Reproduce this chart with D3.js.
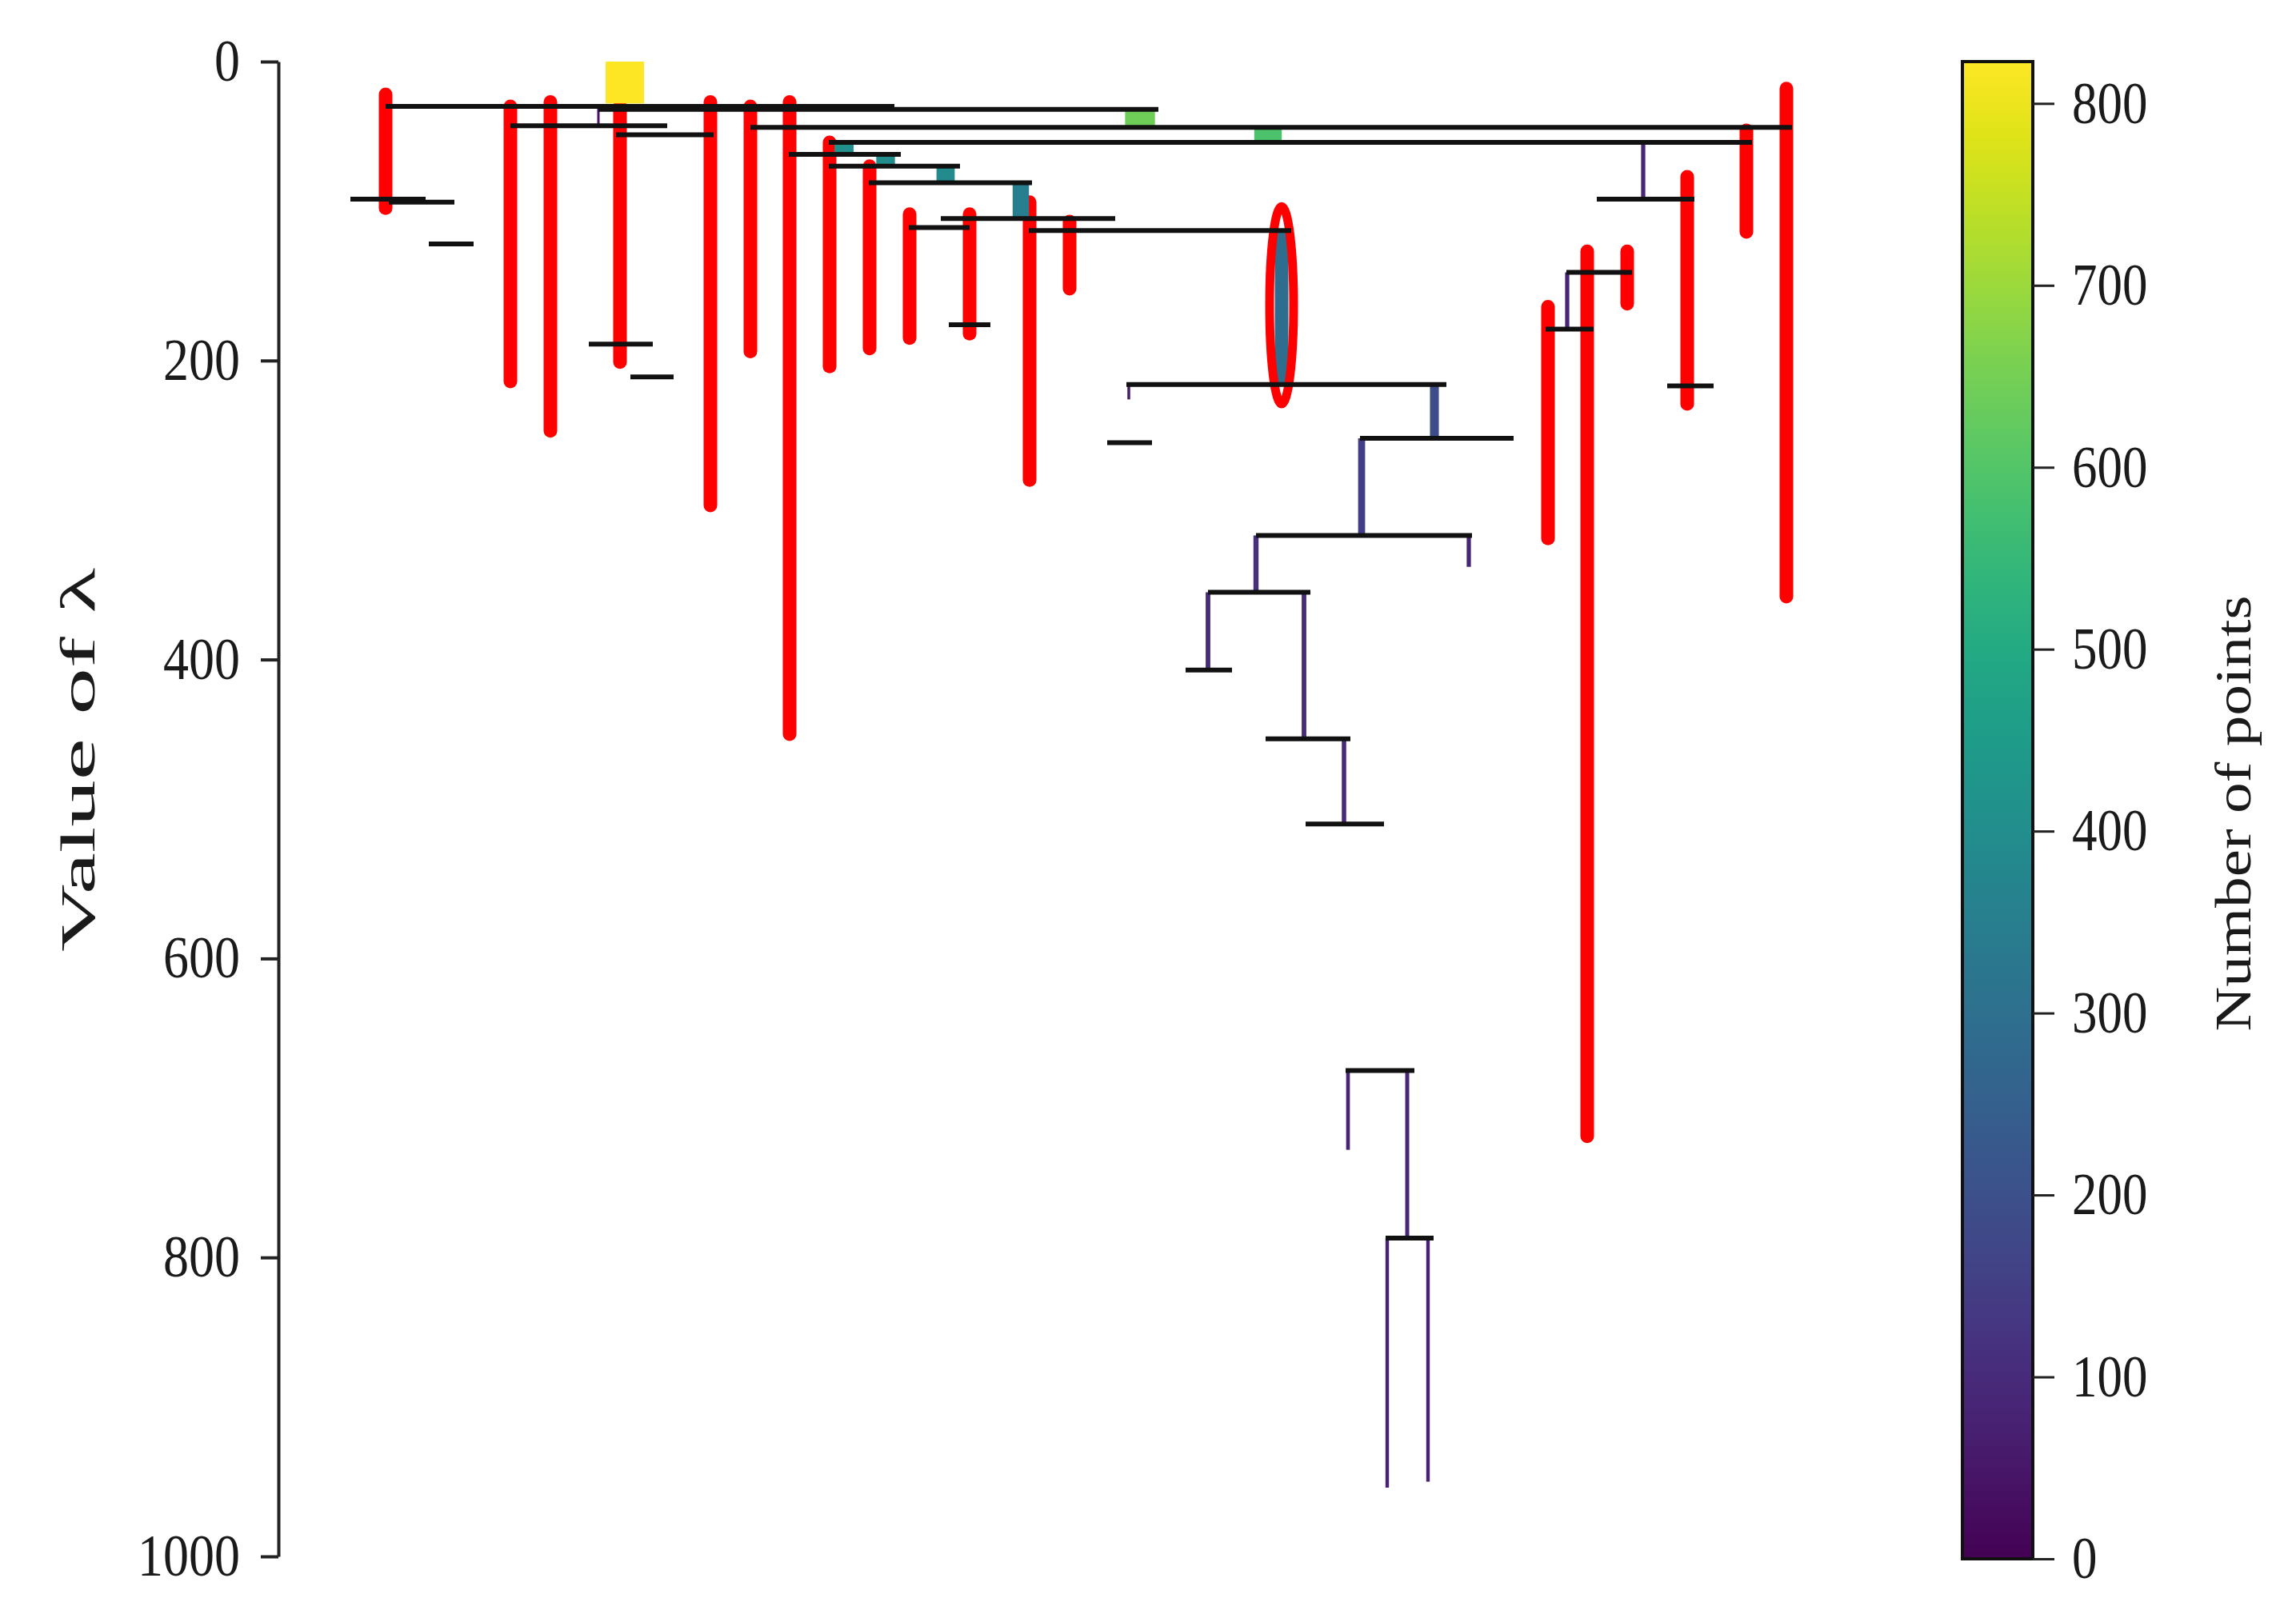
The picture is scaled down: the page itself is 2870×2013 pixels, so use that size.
<!DOCTYPE html>
<html>
<head>
<meta charset="UTF-8">
<script src="https://d3js.org/d3.v7.min.js"></script>
<style>
  body { margin: 0; background: #fff; }
  svg text { font-family: "Liberation Serif", "Times New Roman", serif; fill: #1a1a1a; }
</style>
</head>
<body>
<svg id="chart" width="2870" height="2013"></svg>
<script>
// condensed tree
// x = leaf position (0..1000), lambda values, n = number of points
const lambdaTicks = [0, 200, 400, 600, 800, 1000];
const countTicks = [0, 100, 200, 300, 400, 500, 600, 700, 800];
const countMax = 823;

// horizontal split lines: [lambda, x1, x2]
const splitLines = [
  [30, 67, 385], [32, 200, 550], [43, 145, 243], [49, 211, 272],
  [44, 295, 946], [54, 344, 921], [62, 319, 389], [70, 344, 426],
  [81, 369, 471], [105, 414, 523], [111, 394, 432], [113, 469, 633],
  [92, 45, 92], [94, 69, 110], [122, 94, 122], [189, 194, 234],
  [211, 220, 247], [176, 419, 445], [216, 530, 730], [255, 518, 546],
  [252, 676, 772], [317, 611, 746], [355, 581, 645], [407, 567, 596],
  [453, 617, 670], [510, 642, 691], [675, 667, 710], [787, 692, 722],
  [92, 824, 885], [217, 868, 897], [141, 805, 846], [179, 792, 822]
];

// branches: [x, lambda start, lambda end, n points]
const branches = [
  [216.5, 0, 28, 823], [200, 30, 43, 40], [538.5, 32, 43, 640],
  [618.5, 44, 54, 590], [353.5, 54, 62, 410], [379.5, 62, 70, 400],
  [417, 70, 81, 390], [464, 81, 105, 350], [627, 113, 216, 290],
  [722.5, 216, 252, 190], [677, 252, 317, 150], [611, 317, 355, 110],
  [744, 317, 338, 90], [581, 355, 407, 100], [641, 355, 453, 100],
  [666, 453, 510, 95], [668.5, 675, 728, 80], [705.5, 675, 787, 85],
  [693, 787, 954, 75], [718.5, 787, 950, 75], [853, 54, 92, 90],
  [805.5, 141, 179, 90], [531.5, 216, 226, 60]
];

// selected clusters: [x, lambda start, lambda end]
const selected = [
  [67, 22, 98], [145, 30, 214], [170, 27, 247], [213.5, 30, 201],
  [270, 27, 297], [295, 30, 194], [319.5, 27, 450], [344.5, 54, 204],
  [369.5, 70, 192], [394.5, 102, 185], [432, 102, 182], [469.5, 94, 280],
  [494.5, 107, 152], [793.5, 164, 319], [818, 127, 719], [843, 127, 162],
  [880.5, 77, 229], [917.5, 46, 114], [942.5, 18, 358]
];
const circled = [[627, 97, 229]];

const svg = d3.select("#chart");
svg.append("rect").attr("width", 2870).attr("height", 2013).attr("fill", "#fff");

const y = d3.scaleLinear().domain([0, 1000]).range([77, 1946]);
const x = d3.scaleLinear().domain([0, 1000]).range([348, 2348]);
const color = d3.scaleSequential(d3.interpolateViridis).domain([0, countMax]);
const barW = d3.scaleLinear().domain([0, countMax]).range([0, 48]);

const g = svg.append("g");

// selected clusters (red)
g.selectAll(".sel").data(selected).enter().append("line")
  .attr("x1", d => x(d[0])).attr("x2", d => x(d[0]))
  .attr("y1", d => y(d[1])).attr("y2", d => y(d[2]))
  .attr("stroke", "#ff0000").attr("stroke-width", 17)
  .attr("stroke-linecap", "round");

// branches
g.selectAll(".br").data(branches).enter().append("rect")
  .attr("x", d => x(d[0]) - Math.max(3, barW(d[3])) / 2)
  .attr("width", d => Math.max(3, barW(d[3])))
  .attr("y", d => y(d[1]))
  .attr("height", d => y(d[2]) - y(d[1]))
  .attr("fill", d => color(d[3]));

// circled cluster
g.selectAll(".circ").data(circled).enter().append("ellipse")
  .attr("cx", d => x(d[0]))
  .attr("cy", d => (y(d[1]) + y(d[2])) / 2)
  .attr("rx", 15)
  .attr("ry", d => (y(d[2]) - y(d[1])) / 2)
  .attr("fill", "none").attr("stroke", "#ff0000").attr("stroke-width", 11);

// split lines
g.selectAll(".hl").data(splitLines).enter().append("line")
  .attr("x1", d => x(d[1])).attr("x2", d => x(d[2]))
  .attr("y1", d => y(d[0])).attr("y2", d => y(d[0]))
  .attr("stroke", "#111").attr("stroke-width", 6);

// left axis
const ax = svg.append("g").attr("transform", "translate(348,0)")
  .call(d3.axisLeft(y).tickValues(lambdaTicks).tickFormat(d3.format("d"))
    .tickSize(22).tickSizeOuter(0).tickPadding(26));
ax.select(".domain").attr("stroke", "#222").attr("stroke-width", 4);
ax.selectAll(".tick line").attr("stroke", "#222").attr("stroke-width", 4);
ax.selectAll(".tick text")
  .attr("font-size", 64)
  .attr("font-family", "Liberation Serif")
  .attr("fill", "#1a1a1a")
  .attr("transform", "scale(1,1.15)");

svg.append("text")
  .attr("transform", "translate(118,950) rotate(-90)")
  .attr("text-anchor", "middle")
  .attr("font-size", 62)
  .attr("textLength", 480)
  .attr("lengthAdjust", "spacingAndGlyphs")
  .text("Value of λ");

// colorbar
const cb = { x: 2453, w: 88 };
const cy = d3.scaleLinear().domain([0, countMax]).range([1949, 77]);
const grad = svg.append("defs").append("linearGradient")
  .attr("id", "viridis").attr("x1", 0).attr("y1", 1).attr("x2", 0).attr("y2", 0);
d3.range(0, 1.0001, 0.05).forEach(t => {
  grad.append("stop").attr("offset", t).attr("stop-color", d3.interpolateViridis(t));
});
svg.append("rect")
  .attr("x", cb.x).attr("y", cy(countMax))
  .attr("width", cb.w).attr("height", cy(0) - cy(countMax))
  .attr("fill", "url(#viridis)")
  .attr("stroke", "#111").attr("stroke-width", 4);

const cax = svg.append("g").attr("transform", `translate(${cb.x + cb.w},0)`)
  .call(d3.axisRight(cy).tickValues(countTicks).tickSize(27).tickSizeOuter(0).tickPadding(22));
cax.select(".domain").remove();
cax.selectAll(".tick line").attr("stroke", "#222").attr("stroke-width", 3);
cax.selectAll(".tick text")
  .attr("font-size", 63)
  .attr("font-family", "Liberation Serif")
  .attr("fill", "#1a1a1a")
  .attr("transform", "scale(1,1.18)");

svg.append("text")
  .attr("transform", "translate(2813,1017) rotate(-90)")
  .attr("text-anchor", "middle")
  .attr("font-size", 64)
  .attr("textLength", 545)
  .attr("lengthAdjust", "spacingAndGlyphs")
  .text("Number of points");
</script>
</body>
</html>
